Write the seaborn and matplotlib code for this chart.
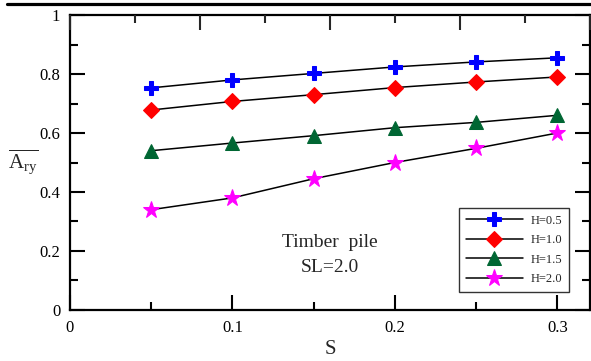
import matplotlib

matplotlib.use("Agg")

import matplotlib.pyplot as plt
import pandas as pd
import seaborn as sns
from matplotlib.lines import Line2D
from matplotlib.ticker import FuncFormatter, MultipleLocator

s_values = [0.05, 0.10, 0.15, 0.20, 0.25, 0.30]
h_labels = ["H=0.5", "H=1.0", "H=1.5", "H=2.0"]
ary_h05 = [0.753, 0.780, 0.802, 0.824, 0.841, 0.855]
ary_h10 = [0.678, 0.707, 0.730, 0.754, 0.773, 0.790]
ary_h15 = [0.540, 0.566, 0.591, 0.618, 0.636, 0.660]
ary_h20 = [0.340, 0.380, 0.445, 0.500, 0.548, 0.600]

series = [ary_h05, ary_h10, ary_h15, ary_h20]
markers = ["P", "D", "^", "*"]
marker_sizes = [9.5, 7.8, 10, 12.5]
colors = ["#0000FF", "#FF0000", "#006633", "#FF00FF"]


def main() -> None:
    sns.set_theme(style="ticks")
    plt.rcParams["font.family"] = ["Liberation Serif", "DejaVu Serif"]
    plt.rcParams["mathtext.fontset"] = "custom"
    plt.rcParams["mathtext.rm"] = "Liberation Serif"

    fig = plt.figure(figsize=(5.91, 3.61), dpi=100)
    ax = fig.add_axes([0.1184, 0.1413, 0.8796, 0.8171])

    for label, values, marker, size, color in zip(
        h_labels, series, markers, marker_sizes, colors
    ):
        df = pd.DataFrame({"S": s_values, "Ary": values})
        sns.lineplot(
            data=df,
            x="S",
            y="Ary",
            color="black",
            linewidth=1.1,
            marker=marker,
            markersize=size,
            markerfacecolor=color,
            markeredgecolor=color,
            label=label,
            ax=ax,
        )

    ax.set_xlim(0, 0.32)
    ax.set_ylim(0, 1)
    ax.xaxis.set_major_locator(MultipleLocator(0.1))
    ax.xaxis.set_minor_locator(MultipleLocator(0.05))
    ax.yaxis.set_major_locator(MultipleLocator(0.2))
    ax.yaxis.set_minor_locator(MultipleLocator(0.1))
    fmt = FuncFormatter(lambda v, p: f"{v:g}")
    ax.xaxis.set_major_formatter(fmt)
    ax.yaxis.set_major_formatter(fmt)
    ax.tick_params(which="both", direction="in", width=1.5, right=True,
                   labelsize=12, colors="black")
    ax.tick_params(which="major", length=11, pad=7)
    ax.tick_params(which="minor", length=6)
    for spine in ax.spines.values():
        spine.set_linewidth(1.6)
        spine.set_color("black")

    top = ax.twiny()
    top.set_xlim(ax.get_xlim())
    top.xaxis.set_major_locator(MultipleLocator(0.08))
    top.xaxis.set_minor_locator(MultipleLocator(0.04))
    top.tick_params(which="both", direction="in", width=1.5, labeltop=False)
    top.tick_params(which="major", length=11)
    top.tick_params(which="minor", length=6)
    for spine in top.spines.values():
        spine.set_visible(False)

    ax.set_xlabel("S", fontsize=15, labelpad=3)
    ax.set_ylabel(r"$\overline{\mathrm{A}_{\mathrm{ry}}}$", fontsize=15,
                  rotation=0, ha="center", va="center")
    ax.yaxis.set_label_coords(-0.09, 0.5)

    ax.text(0.160, 0.214, "Timber  pile", fontsize=14, ha="center", va="baseline")
    ax.text(0.160, 0.129, "SL=2.0", fontsize=14, ha="center", va="baseline")

    leg = ax.legend(
        loc="lower right",
        bbox_to_anchor=(0.96, 0.061),
        borderaxespad=0,
        fontsize=9,
        frameon=True,
        fancybox=False,
        handlelength=4.6,
        borderpad=0.55,
        labelspacing=0.6,
        handletextpad=0.6,
    )
    leg.get_frame().set_edgecolor("black")
    leg.get_frame().set_linewidth(1.0)

    fig.add_artist(Line2D([0.012, 1.0], [0.989, 0.989], color="black",
                          linewidth=2.3, transform=fig.transFigure))

    fig.savefig("out.png", dpi=100)


if __name__ == "__main__":
    main()
